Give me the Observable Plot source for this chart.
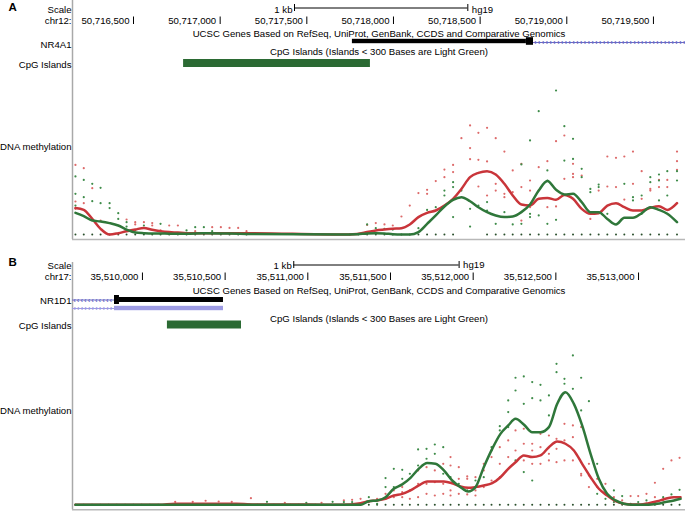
<!DOCTYPE html>
<html><head><meta charset="utf-8">
<script src="https://cdn.jsdelivr.net/npm/d3@7"></script>
<script src="https://cdn.jsdelivr.net/npm/@observablehq/plot@0.6"></script>
<style>
html,body{margin:0;padding:0;background:#fff;}
#chart{width:685px;}
#chart svg{display:block;}
</style>
</head><body><div id="chart"></div>
<script>
// ---------------- DATA ----------------
const panelLetters = ["A", "B"];
const chromNames = ["chr12:", "chr17:"];
const assembly = "hg19";
const scaleLabel = "1 kb";
const geneTrackTitle = "UCSC Genes Based on RefSeq, UniProt, GenBank, CCDS and Comparative Genomics";
const cpgTrackTitle = "CpG Islands (Islands < 300 Bases are Light Green)";
const geneNames = ["NR4A1", "NR1D1"];
const cpgLabel = "CpG Islands";
const methLabel = "DNA methylation";

// genomic windows
const viewA = [50716148, 50719685];
const viewB = [35509577, 35513284];
const baseA = 50716500;
const baseB = 35510000;
const ticksA = [50716500, 50717000, 50717500, 50718000, 50718500, 50719000, 50719500];
const ticksB = [35510000, 35510500, 35511000, 35511500, 35512000, 35512500, 35513000];
const scaleBarA = [50717429, 50718429];
const scaleBarB = [35510915, 35511915];

// gene models
const nr4a1Utr = [50717763, 50718767];
const nr4a1Cds = [50718767, 50718808];
const nr4a1Intron = [50718808, 50719685];
const nr1d1Cds = [35509831, 35509861];
const nr1d1Utr = [35509861, 35510490];
const nr1d1Intron = [35509577, 35509831];
const nr1d1Alt = [35509831, 35510490];
const nr1d1AltIntron = [35509577, 35509831];

// CpG islands
const cpgA = [50716789, 50717867];
const cpgB = [35510151, 35510599];

// smoothed methylation (offset from base, value)
const lineApos = [-335,-287,-238,-190,-138,-88,-40,10,60,108,156,206,256,306,406,652,1194,1290,1348,1398,1448,1496,1546,1594,1644,1694,1744,1794,1844,1892,1942,1990,2040,2090,2140,2188,2238,2288,2338,2388,2438,2486,2536,2586,2636,2684,2734,2784,2832,2882,2932,2982,3032,3080,3136];
const lineAred = [0.176,0.164,0.104,0.038,0,0.009,0.022,0.033,0.044,0.031,0.022,0.016,0.013,0.009,0.009,0.009,0,0.004,0.016,0.027,0.033,0.038,0.042,0.067,0.116,0.144,0.16,0.193,0.238,0.304,0.382,0.411,0.422,0.4,0.338,0.26,0.2,0.193,0.238,0.244,0.231,0.264,0.238,0.171,0.138,0.142,0.193,0.209,0.182,0.16,0.16,0.178,0.189,0.164,0.209];
const lineAgreen = [0.144,0.122,0.093,0.087,0.076,0.06,0.033,0.013,0.009,0.007,0.007,0.005,0.005,0.005,0.009,0.004,0,0.002,0.007,0.009,0.007,0.002,0,0,0.016,0.071,0.127,0.187,0.231,0.249,0.222,0.182,0.149,0.127,0.116,0.12,0.149,0.2,0.293,0.356,0.298,0.267,0.271,0.216,0.149,0.149,0.104,0.067,0.111,0.111,0.142,0.182,0.164,0.138,0.082];

const lineBpos = [-405,100,198,568,700,1000,1198,1319,1369,1419,1470,1520,1571,1621,1671,1722,1772,1823,1873,1923,1970,2014,2064,2115,2165,2212,2256,2306,2357,2407,2458,2508,2558,2609,2659,2710,2760,2810,2861,2911,2962,3012,3062,3113,3163,3214,3254];
const lineBred = [0,0,0.007,0.007,0.002,0.002,0,0.011,0.024,0.029,0.04,0.062,0.073,0.096,0.129,0.156,0.156,0.156,0.144,0.122,0.113,0.118,0.129,0.144,0.184,0.24,0.284,0.329,0.318,0.329,0.384,0.422,0.407,0.362,0.273,0.184,0.107,0.062,0.024,0.007,0.002,0.002,0.011,0.024,0.04,0.051,0.051];
const lineBgreen = [0,0,0,0,0,0,0,0,0.024,0.029,0.051,0.107,0.136,0.18,0.24,0.278,0.273,0.229,0.162,0.118,0.089,0.118,0.251,0.373,0.473,0.529,0.573,0.536,0.484,0.484,0.518,0.673,0.751,0.673,0.529,0.34,0.173,0.073,0.029,0.007,0,0,0,0.007,0.018,0.029,0.04];

// individual CpG measurements: [offset, [values...]]
const dotsAred = [[-335,[0.464,0.22,0.171]],[-287,[0.442,0.209]],[-238,[0.309]],[-190,[0.093]],[-40,[0.1]],[10,[0.082,0.067]],[60,[0.082]],[108,[0.076,0.06]],[156,[0.027]],[206,[0.06]],[256,[0.06]],[356,[0.022]],[454,[0.049]],[504,[0.049]],[554,[0.044]],[604,[0.044]],[652,[0.022]],
 [1348,[0.064]],[1398,[0.076]],[1448,[0.067]],[1496,[0.06]],[1546,[0.12]],[1594,[0.193]],[1644,[0.276]],[1694,[0.298,0.271]],[1744,[0.356]],[1794,[0.433,0.382]],[1844,[0.464,0.416]],[1892,[0.642]],[1942,[0.727,0.576,0.502]],[1990,[0.678,0.498,0.32]],[2040,[0.711,0.487,0.26]],[2090,[0.642,0.338,0.293]],[2140,[0.553,0.271,0.249]],[2188,[0.427,0.282]],[2238,[0.471,0.316,0.093]],[2288,[0.36,0.293,0.182]],[2338,[0.449,0.293]],[2388,[0.489,0.182]],[2438,[0.622,0.187]],[2486,[0.66,0.371]],[2536,[0.471,0.404,0.382]],[2586,[0.393]],[2636,[0.104]],[2684,[0.293]],[2734,[0.52,0.32]],[2784,[0.511,0.316]],[2832,[0.52,0.233]],[2882,[0.553,0.338]],[2932,[0.422,0.238]],[2982,[0.304,0.293]],[3032,[0.364,0.316]],[3080,[0.364,0.316]],[3136,[0.553,0.489,0.431]]];
const dotsAgreen = [[-335,[0.387,0.271,0.193]],[-287,[0.364,0.249]],[-238,[0.338,0.222]],[-190,[0.311,0.209]],[-138,[0.209,0.176]],[-88,[0.142,0.104]],[-40,[0.082,0.053]],[10,[0.027]],[60,[0.06]],[156,[0.071]],[306,[0.027]],[356,[0.049]],[406,[0.049]],[454,[0.022]],
 [1348,[0.067]],[1398,[0.042]],[1448,[0.038]],[1496,[0.033]],[1644,[0.042]],[1694,[0.164]],[1744,[0.182]],[1794,[0.293,0.26]],[1844,[0.349,0.316,0.116]],[1892,[0.293]],[1942,[0.171,0.053]],[1990,[0.193]],[2040,[0.216,0.16]],[2090,[0.071]],[2140,[0.149]],[2188,[0.067]],[2238,[0.467,0.071]],[2288,[0.627,0.138,0.116]],[2338,[0.822,0.127]],[2388,[0.427,0.36,0.071]],[2438,[0.96,0.098]],[2486,[0.722,0.493]],[2536,[0.638,0.504]],[2586,[0.438,0.382]],[2636,[0.304,0.282]],[2684,[0.333,0.316]],[2734,[0.138]],[2832,[0.338]],[2882,[0.249,0.227]],[2932,[0.26,0.138]],[2982,[0.382,0.349]],[3032,[0.4,0.36,0.227]],[3080,[0.422,0.26]],[3136,[0.422,0.36]]];
const baselineA = [-335,-287,-238,-190,-138,-88,-40,10,60,108,156,206,256,306,356,406,454,504,554,604,652,1248,1298,1348,1398,1448,1496,1546,1594,1644,1694,1744,1794,1844,2040,2090,2140,2188,2238,2288,2338,2388,2438,2486,2536,2586,2636,2684,2734,2784,2832,2882,2932,2982,3032,3080,3136];

const dotsBred = [[198,[0.02]],[304,[0.02]],[382,[0.027]],[461,[0.022]],[540,[0.02]],[656,[0.044]],[861,[0.013]],[1083,[0.013]],
 [1218,[0.029]],[1268,[0.033]],[1319,[0.04]],[1369,[0.018]],[1419,[0.04]],[1470,[0.073,0.04]],[1520,[0.096,0.051]],[1571,[0.118,0.084,0.051]],[1617,[0.096,0.04]],[1667,[0.229,0.14,0.051]],[1718,[0.251,0.14,0.073]],[1768,[0.229,0.151,0.062]],[1819,[0.273,0.14,0.073]],[1863,[0.318,0.262,0.096,0.062]],[1913,[0.251,0.173,0.073]],[1964,[0.189,0.173,0.069]],[2014,[0.184,0.096,0.062]],[2064,[0.273,0.229,0.118]],[2111,[0.318,0.162]],[2161,[0.384,0.273,0.184]],[2212,[0.429,0.318]],[2256,[0.496,0.362]],[2306,[0.507,0.407,0.296]],[2357,[0.407,0.362,0.273]],[2407,[0.473,0.384,0.273]],[2458,[0.462,0.34,0.296]],[2504,[0.44,0.373,0.284]],[2552,[0.54,0.429,0.296]],[2603,[0.529,0.451,0.296]],[2653,[0.518,0.207,0.196]],[2700,[0.273,0.196,0.118]],[2750,[0.173,0.118]],[2800,[0.14,0.073]],[2851,[0.051]],[2901,[0.029]],[2952,[0.058]],[2998,[0.058]],[3048,[0.073]],[3099,[0.147,0.051]],[3149,[0.24,0.029]],[3199,[0.296]],[3248,[0.313]]];
const dotsBgreen = [[753,[0.02]],[991,[0.013]],[1150,[0.02]],
 [1218,[0.018]],[1268,[0.018]],[1319,[0.007]],[1369,[0.051]],[1419,[0.007]],[1470,[0.178,0.118]],[1520,[0.24,0.118]],[1571,[0.233,0.173]],[1617,[0.207]],[1667,[0.369,0.262]],[1718,[0.373,0.307]],[1768,[0.402,0.34]],[1819,[0.384,0.207]],[1863,[0.184]],[1913,[0.14]],[1964,[0.096]],[2014,[0.162]],[2064,[0.184]],[2111,[0.384,0.362]],[2161,[0.524,0.496]],[2212,[0.696,0.618,0.518]],[2256,[0.847,0.762,0.296]],[2306,[0.856,0.673,0.218]],[2357,[0.818,0.711,0.162]],[2407,[0.8,0.696]],[2458,[0.729,0.596]],[2504,[0.94,0.884]],[2552,[0.84,0.807]],[2603,[0.996,0.773]],[2653,[0.847,0.629]],[2700,[0.691]],[2750,[0.273,0.073]],[2800,[0.04]],[2851,[0.096,0.018]],[2901,[0.058]],[2952,[0.007]],[2998,[0.018]],[3048,[0.029]],[3149,[0.051]],[3199,[0.069]],[3248,[0.1,0.051]]];
const baselineB = [-405,-355,-305,-255,-205,-155,-105,-55,-5,45,95,145,195,245,295,345,395,445,495,545,595,645,695,745,795,845,895,945,995,1045,1095,1145,1218,1268,1319,1369,1419,1470,1520,1571,1617,1667,1718,1768,1819,1863,1913,1964,2014,2064,2111,2161,2212,2256,2306,2357,2407,2458,2504,2552,2603,2653,2700,2750,2800,2851,2901,2952,2998,3048,3099,3149,3199,3248];

// ---------------- STYLE / LAYOUT ----------------
const FONT = "'Liberation Sans', Arial, Helvetica, sans-serif";
const FS = 9.6;
const W = 685, ML = 72;
const C = {
  text: "#000", axisLine: "#a9a9a9", gene: "#000", intron: "#6a6ac4", alt: "#9d9be3",
  cpg: "#2b6a33", red: "#c9353a", green: "#2f773a", redDot: "#dd6a6a", greenDot: "#3f8c4a", baseDot: "#2a4f2c"
};

function flat(dots, base) {
  return dots.flatMap(([p, vals]) => vals.map(v => ({x: base + p, v})));
}
function lineData(pos, vals, base) {
  return pos.map((p, i) => ({x: base + p, v: vals[i]}));
}
function span(a, r0, r1) { return {x1: () => a[0], x2: () => a[1], y1: () => r0, y2: () => r1}; }
function hline(a, r) { return {x1: () => a[0], x2: () => a[1], y: () => r}; }

function header(o) {
  const R = o.rows, H = o.height, x0 = o.view[0];
  const leftLabels = [
    {t: "Scale", y: R.scaleText}, {t: o.chrom, y: R.chr},
    {t: o.gene, y: R.geneLabel}, {t: cpgLabel, y: R.cpgLabel}
  ];
  const mid = (o.view[0] + o.view[1]) / 2;
  const marks = [
    Plot.ruleX([x0], {y1: () => R.lineTop, y2: () => H, stroke: C.axisLine, strokeWidth: 1.5}),
    Plot.text([o.letter], {x: () => x0, y: () => R.letter, dx: -64, textAnchor: "start", fontWeight: "bold", fontSize: 11.5, fill: C.text}),
    Plot.text(leftLabels, {x: () => x0, y: "y", text: "t", textAnchor: "end", dx: -1, fill: C.text}),
    // scale bar
    Plot.ruleY([0], {...hline(o.scaleBar, R.scaleBar), stroke: "#000", strokeWidth: 1}),
    Plot.ruleX(o.scaleBar, {y1: () => R.scaleBar - 3.5, y2: () => R.scaleBar + 3.5, stroke: "#000", strokeWidth: 1}),
    Plot.text([scaleLabel], {x: () => o.scaleBar[0], y: () => R.scaleText, dx: -2, textAnchor: "end", fill: C.text}),
    Plot.text([assembly], {x: () => o.scaleBar[1], y: () => R.hg, dx: 4, textAnchor: "start", fill: C.text}),
    // coordinate ruler
    Plot.text(o.ticks, {x: d => d, y: () => R.chr, text: d => d3.format(",")(d), textAnchor: "end", dx: -4, fill: C.text}),
    Plot.ruleX(o.ticks, {y1: () => R.chr - 4, y2: () => R.chr + 3.5, stroke: "#000", strokeWidth: 1}),
    // track titles
    Plot.text([geneTrackTitle], {x: () => mid, y: () => R.geneTitle, textAnchor: "middle", fill: C.text}),
    Plot.text([cpgTrackTitle], {x: () => mid, y: () => R.cpgTitle, textAnchor: "middle", fill: C.text}),
    // CpG island
    Plot.rect([0], {...span(o.cpg, R.cpg - 4, R.cpg + 4), fill: C.cpg})
  ];
  return Plot.plot({
    width: W, height: H, marginLeft: ML, marginRight: 0, marginTop: 0, marginBottom: 0,
    x: {domain: o.view, axis: null},
    y: {domain: [0, H], range: [0, H], axis: null},
    style: {fontFamily: FONT, fontSize: FS + "px", background: "#fff", overflow: "visible"},
    marks: [...marks, ...o.geneMarks]
  });
}

function intron(a, r, glyph, color) {
  return [
    Plot.ruleY([0], {...hline(a, r), stroke: color, strokeWidth: 1}),
    Plot.text(d3.range(a[0] + 12, a[1] - 6, 22), {x: d => d, y: () => r, text: () => glyph, fill: color, fontSize: 8, fontWeight: "bold"})
  ];
}

function meth(o) {
  const H = o.height, fb = o.frameBottom, unit = 150;
  const top = fb / unit - 1 / 30;
  return Plot.plot({
    width: W, height: H, marginLeft: ML, marginRight: 0, marginTop: 0, marginBottom: H - fb,
    x: {domain: o.view, axis: null},
    y: {domain: [-1 / 30, top], axis: null},
    style: {fontFamily: FONT, fontSize: FS + "px", background: "#fff", overflow: "visible"},
    marks: [
      Plot.ruleX([o.view[0]], {stroke: C.axisLine, strokeWidth: 1.5}),
      Plot.ruleY([-1 / 30], {stroke: "#b8b8b8", strokeWidth: 1.5}),
      Plot.text([methLabel], {frameAnchor: "left", dx: -1, dy: o.labelDy, textAnchor: "end", fill: C.text}),
      Plot.dot(o.baseline.map(p => o.base + p), {x: d => d, y: () => 0, r: 1, fill: C.baseDot}),
      Plot.dot(flat(o.dotsRed, o.base), {x: "x", y: "v", r: 1.1, fill: C.redDot}),
      Plot.dot(flat(o.dotsGreen, o.base), {x: "x", y: "v", r: 1.1, fill: C.greenDot}),
      Plot.line(lineData(o.pos, o.red, o.base), {x: "x", y: "v", stroke: C.red, strokeWidth: 2.5, curve: "monotone-x"}),
      Plot.line(lineData(o.pos, o.green, o.base), {x: "x", y: "v", stroke: C.green, strokeWidth: 2.5, curve: "monotone-x"})
    ]
  });
}

const rowsA = {letter: 6.5, lineTop: 0, scaleBar: 7.5, scaleText: 9.5, hg: 9.5, chr: 20.5, geneTitle: 33.5, gene: 41, geneLabel: 44, cpgTitle: 51.5, cpg: 63, cpgLabel: 64};
const rowsB = {letter: 6, lineTop: 6, scaleBar: 8.5, scaleText: 9.5, hg: 8.5, chr: 20.5, geneTitle: 34.5, gene: 43.5, gene2: 52, geneLabel: 44, cpgTitle: 62, cpg: 68.5, cpgLabel: 69};

const geneMarksA = [
  Plot.rect([0], {...span(nr4a1Utr, rowsA.gene - 2.2, rowsA.gene + 2.2), fill: C.gene}),
  Plot.rect([0], {...span(nr4a1Cds, rowsA.gene - 3.8, rowsA.gene + 3.8), fill: C.gene}),
  ...intron(nr4a1Intron, rowsA.gene + 1, "›", C.intron)
];
const geneMarksB = [
  ...intron(nr1d1Intron, rowsB.gene, "‹", C.intron),
  Plot.rect([0], {...span(nr1d1Cds, rowsB.gene - 4.5, rowsB.gene + 4.5), fill: C.gene}),
  Plot.rect([0], {...span(nr1d1Utr, rowsB.gene - 2.5, rowsB.gene + 2.5), fill: C.gene}),
  ...intron(nr1d1AltIntron, rowsB.gene2, "‹", C.alt),
  Plot.rect([0], {...span(nr1d1Alt, rowsB.gene2 - 2.2, rowsB.gene2 + 2.2), fill: C.alt})
];

const chart = document.getElementById("chart");
chart.append(
  header({letter: panelLetters[0], chrom: chromNames[0], gene: geneNames[0], view: viewA, ticks: ticksA, scaleBar: scaleBarA, cpg: cpgA, rows: rowsA, height: 76, geneMarks: geneMarksA}),
  meth({view: viewA, base: baseA, height: 180, frameBottom: 163, labelDy: -11.5, baseline: baselineA, dotsRed: dotsAred, dotsGreen: dotsAgreen, pos: lineApos, red: lineAred, green: lineAgreen}),
  header({letter: panelLetters[1], chrom: chromNames[1], gene: geneNames[1], view: viewB, ticks: ticksB, scaleBar: scaleBarB, cpg: cpgB, rows: rowsB, height: 84, geneMarks: geneMarksB}),
  meth({view: viewB, base: baseB, height: 172, frameBottom: 169.3, labelDy: -14.6, baseline: baselineB, dotsRed: dotsBred, dotsGreen: dotsBgreen, pos: lineBpos, red: lineBred, green: lineBgreen})
);
</script>
</body></html>
